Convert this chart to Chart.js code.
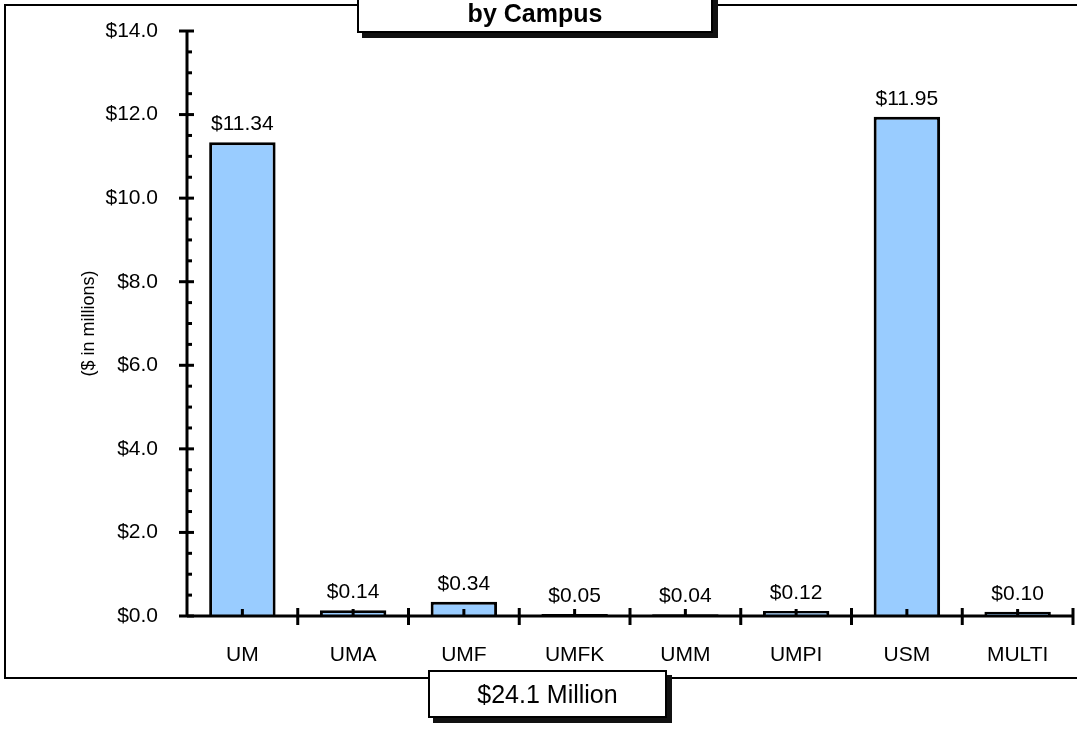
<!DOCTYPE html>
<html>
<head>
<meta charset="utf-8">
<script src="https://cdn.jsdelivr.net/npm/chart.js@4"></script>
<style>
  body { margin: 0; background: #fff; font-family: "Liberation Sans", Arial, sans-serif; }
  #wrap { position: relative; width: 1077px; height: 729px; overflow: hidden; }
  #frame { position: absolute; left: 4px; top: 4px; width: 1200px; height: 675px; border: 2px solid #000; box-sizing: border-box; }
  canvas { position: absolute; left: 0; top: 0; }
  .box { position: absolute; background: #fff; border: 2px solid #000; box-sizing: border-box; text-align: center; box-shadow: 5px 5px 0 #111; }
  #title { left: 357px; top: -20px; width: 356px; height: 53px; font-weight: bold; font-size: 25px; line-height: 26px; padding-top: 18px; }
  #total { left: 428px; top: 670px; width: 239px; height: 48px; font-size: 25px; line-height: 44px; }
</style>
</head>
<body>
<div id="wrap">
  <div id="frame"></div>
  <canvas id="chart" width="1077" height="729"></canvas>
  <div class="box" id="title">by Campus</div>
  <div class="box" id="total">$24.1 Million</div>
</div>
<script>
const campuses = ['UM', 'UMA', 'UMF', 'UMFK', 'UMM', 'UMPI', 'USM', 'MULTI']
const amounts = [11.34, 0.14, 0.34, 0.05, 0.04, 0.12, 11.95, 0.10]
const yMax = 14
const yMajorStep = 2
const yMinorStep = 0.5

const money = (v, d) => '$' + v.toFixed(d)
const FONT = '"Liberation Sans", Arial, sans-serif'

// axis lines, tick marks and value labels
const axisPlugin = {
  id: 'axisPlugin',
  afterDatasetsDraw (chart) {
    const { ctx, chartArea, scales } = chart
    const x = scales.x
    const y = scales.y
    ctx.save()
    ctx.strokeStyle = '#000'
    ctx.lineWidth = 3
    ctx.beginPath()
    ctx.moveTo(chartArea.left, chartArea.top)
    ctx.lineTo(chartArea.left, chartArea.bottom)
    ctx.moveTo(chartArea.left, chartArea.bottom)
    ctx.lineTo(chartArea.right, chartArea.bottom)
    ctx.stroke()

    for (let v = 0; v <= yMax + 0.001; v += yMinorStep) {
      const py = y.getPixelForValue(v)
      const major = Math.abs(v / yMajorStep - Math.round(v / yMajorStep)) < 0.001
      ctx.beginPath()
      ctx.moveTo(chartArea.left - (major ? 8 : 0), py)
      ctx.lineTo(chartArea.left + (major ? 7 : 5), py)
      ctx.stroke()
    }

    const half = (x.getPixelForValue(1) - x.getPixelForValue(0)) / 2
    campuses.forEach((c, i) => {
      const cx = x.getPixelForValue(i)
      ctx.beginPath()
      ctx.moveTo(cx + half, chartArea.bottom - 8)
      ctx.lineTo(cx + half, chartArea.bottom + 9)
      ctx.moveTo(cx, chartArea.bottom - 7)
      ctx.lineTo(cx, chartArea.bottom)
      ctx.stroke()
    })

    ctx.fillStyle = '#000'
    ctx.font = '21px ' + FONT
    ctx.textAlign = 'center'
    ctx.textBaseline = 'alphabetic'
    const meta = chart.getDatasetMeta(0)
    meta.data.forEach((bar, i) => {
      ctx.fillText(money(amounts[i], 2), bar.x, bar.y - 12)
    })
    ctx.restore()
  }
}

new Chart(document.getElementById('chart').getContext('2d'), {
  type: 'bar',
  data: {
    labels: campuses,
    datasets: [{
      data: amounts,
      backgroundColor: '#99ccff',
      borderColor: '#000',
      borderWidth: 3,
      categoryPercentage: 1,
      barPercentage: 0.6
    }]
  },
  options: {
    responsive: false,
    animation: false,
    layout: { padding: { left: 0, top: 31, right: 4, bottom: 0 } },
    plugins: { legend: { display: false }, tooltip: { enabled: false } },
    scales: {
      x: {
        grid: { display: false, drawTicks: false },
        border: { display: false },
        ticks: { color: '#000', font: { size: 21, family: FONT }, padding: 27 },
        afterFit: (s) => { s.height = 113; s.paddingLeft = 0; s.paddingRight = 0 }
      },
      y: {
        min: 0,
        max: yMax,
        grid: { display: false, drawTicks: false },
        border: { display: false },
        ticks: {
          stepSize: yMajorStep,
          color: '#000',
          font: { size: 21, family: FONT },
          padding: 29,
          callback: (v) => money(v, 1)
        },
        title: {
          display: true,
          text: '($ in millions)',
          color: '#000',
          font: { size: 18, family: FONT },
          padding: { top: 78, bottom: 0 }
        },
        afterFit: (s) => { s.width = 187; s.paddingTop = 0; s.paddingBottom = 0 }
      }
    }
  },
  plugins: [axisPlugin]
})
</script>
</body>
</html>
